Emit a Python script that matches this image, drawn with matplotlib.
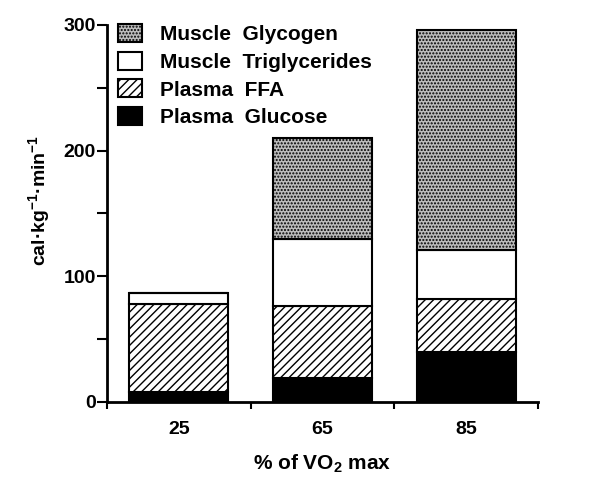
import matplotlib.pyplot as plt
import numpy as np

plt.rcParams['font.family'] = ['Liberation Sans', 'DejaVu Sans']
plt.rcParams['font.weight'] = 'bold'
plt.rcParams['mathtext.fontset'] = 'custom'
plt.rcParams['mathtext.rm'] = 'Liberation Sans:bold'
plt.rcParams['mathtext.default'] = 'regular'
plt.rcParams['hatch.linewidth'] = 1.0

# data (cal/kg/min)
intensity = ['25', '65', '85']
plasma_glucose = [8, 19, 40]
plasma_ffa = [70, 57, 42]
muscle_tg = [9, 54, 39]
muscle_glycogen = [0, 80, 175]

labels = ['Muscle  Glycogen', 'Muscle  Triglycerides', 'Plasma  FFA', 'Plasma  Glucose']

fig = plt.figure(figsize=(6.05, 4.78), dpi=100)
ax = fig.add_axes([0.177, 0.159, 0.712, 0.789])

x = np.arange(len(intensity))
w = 0.69
bottom = np.zeros(len(x))
h_glu = ax.bar(x, plasma_glucose, w, bottom=bottom, color='black', edgecolor='black', lw=1.5)
bottom += plasma_glucose
h_ffa = ax.bar(x, plasma_ffa, w, bottom=bottom, color='white', edgecolor='black', hatch='////', lw=1.5)
bottom += plasma_ffa
h_tg = ax.bar(x, muscle_tg, w, bottom=bottom, color='white', edgecolor='black', lw=1.5)
bottom += muscle_tg
h_gly = ax.bar(x, muscle_glycogen, w, bottom=bottom, color='#bdbdbd', edgecolor='black', hatch='.....', lw=1.5)

ax.set_xlim(-0.5, 2.5)
ax.set_ylim(0, 300)
ax.set_xticks(np.arange(-0.5, 3, 1))
ax.set_xticklabels([])
ax.set_xticks(x, minor=True)
ax.set_xticklabels(intensity, minor=True)
ax.tick_params(axis='x', which='major', direction='out', length=5, width=1.5)
ax.tick_params(axis='x', which='minor', length=0, pad=14, labelsize=14)
ax.set_yticks([0, 100, 200, 300])
ax.set_yticks([50, 150, 250], minor=True)
ax.tick_params(axis='y', which='both', direction='out', length=7, width=1.5, labelsize=14, pad=1)

for s in ['top', 'right']:
    ax.spines[s].set_visible(False)
for s in ['left', 'bottom']:
    ax.spines[s].set_linewidth(2)

ax.set_ylabel('cal·kg$^{-1}$·min$^{-1}$', fontsize=14, fontweight='bold')
ax.yaxis.set_label_coords(-0.128, 0.535)
ax.set_xlabel('% of VO$_2$ max', fontsize=15, fontweight='bold', labelpad=10)

ax.legend([h_gly, h_tg, h_ffa, h_glu], labels, loc='upper left', frameon=False,
          prop={'size': 15, 'weight': 'bold'}, bbox_to_anchor=(0.026, 1.002),
          handlelength=1.15, handleheight=0.95, labelspacing=0.36,
          handletextpad=0.85, borderaxespad=0, borderpad=0)

fig.savefig('out.png', dpi=100)
